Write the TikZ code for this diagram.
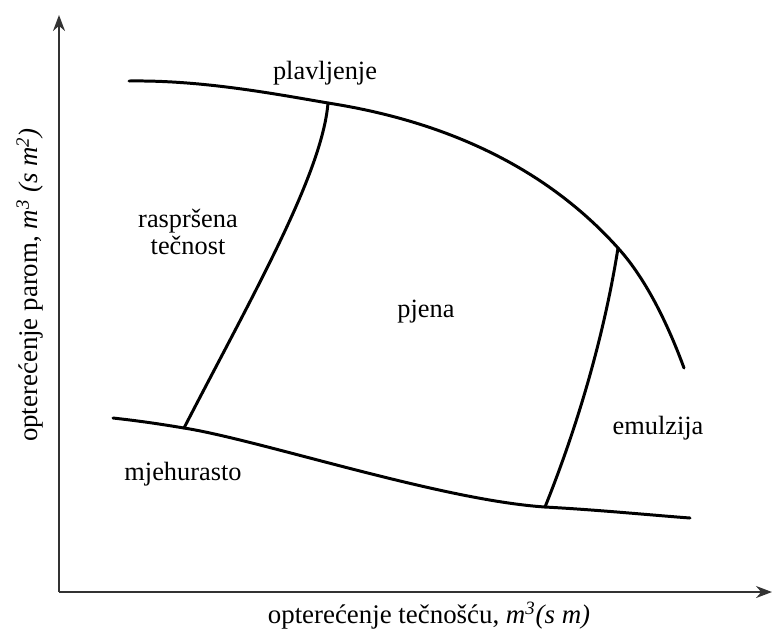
\documentclass[tikz,border=0pt]{standalone}
\usepackage{fontspec}
\setmainfont{Liberation Serif}
\usetikzlibrary{arrows.meta}

\begin{document}
\begin{tikzpicture}[
    x=0.02cm, y=-0.02cm,
    axis/.style={-{Stealth[length=0.32cm, width=0.24cm]}, line width=1.1pt, black!80},
    boundary/.style={line width=1.7pt, line cap=round},
    region/.style={font=\fontsize{15}{15.5}\selectfont, align=center, inner sep=0pt},
    axislabel/.style={font=\fontsize{15.3}{18}\selectfont, inner sep=0pt}
]
\useasboundingbox (0,0) rectangle (773,630);
% Axes
\coordinate (origin) at (59,592);
\coordinate (ytop) at (59,15);
\coordinate (xend) at (772,592);
\draw[axis] (origin) -- (ytop);
\draw[axis] (origin) -- (xend);
% Boundary points
\coordinate (floodstart) at (129,81);
\coordinate (floodend) at (684,368);
\coordinate (spraytop) at (328,103);
\coordinate (emultop) at (618,248);
\coordinate (bubblestart) at (113,418);
\coordinate (bubbleend) at (690,518);
\coordinate (spraybot) at (184,428);
\coordinate (emulbot) at (545,507);
% Flooding limit
\draw[boundary] (floodstart) .. controls (200,80) and (270,93) .. (spraytop)
    .. controls (450,122) and (548,170) .. (emultop)
    .. controls (648,281) and (670,330) .. (floodend);
% Bubble limit
\draw[boundary] (bubblestart) .. controls (140,421) and (160,424) .. (spraybot)
    .. controls (260,440) and (440,500) .. (emulbot)
    .. controls (600,510) and (650,515) .. (bubbleend);
% Inner borders
\draw[boundary] (spraytop) .. controls (322,175) and (250,300) .. (spraybot);
\draw[boundary] (emultop) .. controls (605,330) and (580,420) .. (emulbot);
% Region labels
\node[region] (flooding) at (325,73) {plavljenje};
\node[region] (spray) at (188,232) {raspršena\\tečnost};
\node[region] (froth) at (426,312) {pjena};
\node[region] (emulsion) at (658,428) {emulzija};
\node[region] (bubble) at (183,474) {mjehurasto};
% Axis labels
\node[axislabel] (xlabel) at (429,616) {opterećenje tečnošću, \textit{m\textsuperscript{3}(s m)}};
\node[axislabel, rotate=90] (ylabel) at (30,285) {opterećenje parom, \textit{m\textsuperscript{3} (s m\textsuperscript{2})}};
\end{tikzpicture}
\end{document}
